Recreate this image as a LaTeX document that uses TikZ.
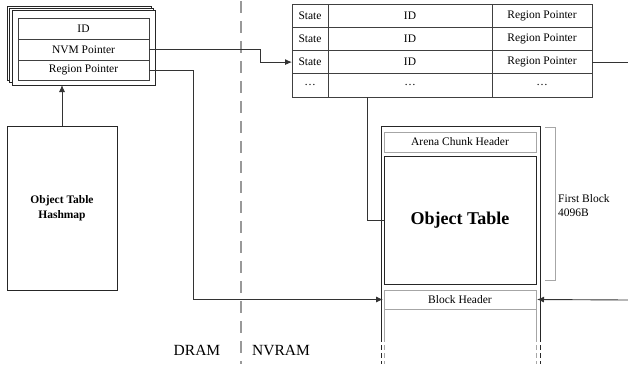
\documentclass[tikz,border=0pt]{standalone}
\usepackage{fontspec}
\setmainfont{Liberation Serif}
\usetikzlibrary{arrows.meta}
\begin{document}
\begin{tikzpicture}[x=1pt,y=-1pt,
  cell/.style={draw=black!75, line width=0.9pt, inner sep=0pt, outer sep=0pt, font=\fontsize{11.5}{13}\selectfont},
  gcell/.style={draw=black!35, line width=0.9pt, inner sep=0pt, outer sep=0pt, font=\fontsize{11.5}{13}\selectfont},
  frame/.style={draw=black!85, fill=white, line width=0.9pt, inner sep=0pt, outer sep=0pt},
  conn/.style={draw=black!80, line width=0.9pt},
  tip/.style={-{Latex[length=7pt,width=6pt]}},
  lbl/.style={font=\fontsize{15.5}{18}\selectfont, inner sep=0pt}
]
\useasboundingbox (0,0) rectangle (628,364);

% DRAM / NVRAM divider
\draw[black!40, line width=2.6pt, dash pattern=on 12pt off 8pt] (241,1) -- (241,364);
\node[lbl] (dram) at (197,350) {DRAM};
\node[lbl] (nvram) at (281,350) {NVRAM};

% stacked entry boxes
\node[frame, minimum width=144pt, minimum height=74pt] (back2) at (79.5,43) {};
\node[frame, minimum width=144pt, minimum height=74pt] (back1) at (81.5,45.5) {};
\node[frame, minimum width=143pt, minimum height=75pt] (front) at (83.5,47.5) {};
\node[cell, minimum width=131pt, minimum height=21pt] (eid) at (83.5,28.5) {ID};
\node[cell, minimum width=131pt, minimum height=21pt] (nvm) at (83.5,49.5) {NVM Pointer};
\node[cell, minimum width=131pt, minimum height=20pt] (reg) at (83.5,70) {Region Pointer};

% hashmap
\node[frame, minimum width=110pt, minimum height=164pt, align=center,
      font=\fontsize{11.5}{15}\selectfont\bfseries] (hm) at (62,208) {Object Table\\Hashmap};
\draw[conn,tip] (hm.north) -- (hm.north |- front.south);

% NVRAM table
\foreach \r/\y in {1/15.6,2/38.9,3/62.1}{
  \node[cell, minimum width=36pt, minimum height=23.25pt] (s\r) at (310,\y) {State};
  \node[cell, minimum width=164pt, minimum height=23.25pt] (i\r) at (410,\y) {ID};
  \node[cell, minimum width=100pt, minimum height=23.25pt] (p\r) at (542,\y) {Region Pointer};
}
\node[cell, minimum width=36pt, minimum height=23.25pt] (s4) at (310,85.4) {\dots};
\node[cell, minimum width=164pt, minimum height=23.25pt] (i4) at (410,85.4) {\dots};
\node[cell, minimum width=100pt, minimum height=23.25pt] (p4) at (542,85.4) {\dots};

% NVRAM region column
\draw[black!85, line width=0.9pt] (381,337) -- (381,126) -- (540,126) -- (540,337);
\draw[black!85, line width=0.9pt, dash pattern=on 5pt off 3pt] (381,337) -- (381,364) (540,337) -- (540,364);
\node[gcell, minimum width=152pt, minimum height=20pt] (ach) at (460,142) {Arena Chunk Header};
\node[draw=black!85, line width=1pt, inner sep=0pt, outer sep=0pt, minimum width=152pt, minimum height=128pt,
      font=\fontsize{18}{20}\selectfont\bfseries] (ot) at (460,220) {Object Table};
\node[gcell, minimum width=152pt, minimum height=19pt] (bh) at (460,299.5) {Block Header};
\draw[black!35, line width=0.9pt] (bh.south west) -- (384,337) (bh.south east) -- (536,337);
\draw[black!35, line width=0.9pt, dash pattern=on 5pt off 3pt] (384,337) -- (384,364) (536,337) -- (536,364);

% first block bracket
\draw[black!35, line width=0.9pt] (545,127) -- (555,127) -- (555,280) -- (545,280);
\node[anchor=west, align=left, inner sep=0pt, font=\fontsize{11.5}{14}\selectfont] (fb) at (558,206) {First Block\\4096B};

% connectors
\coordinate (tb) at (367,97);
\coordinate (redge1) at (628,62.1);
\coordinate (redge2) at (628,300);
\draw[conn,tip] (nvm.east) -- ++(111,0) |- (s3.west);
\draw[conn,tip] (reg.east) -- ++(44,0) |- ([xshift=-1pt]bh.west);
\draw[conn] (tb) |- (ot.west);
\draw[conn] (p3.east) -- (redge1);
\draw[conn,tip] (redge2) -- ([xshift=1pt]bh.east);
\end{tikzpicture}
\end{document}
